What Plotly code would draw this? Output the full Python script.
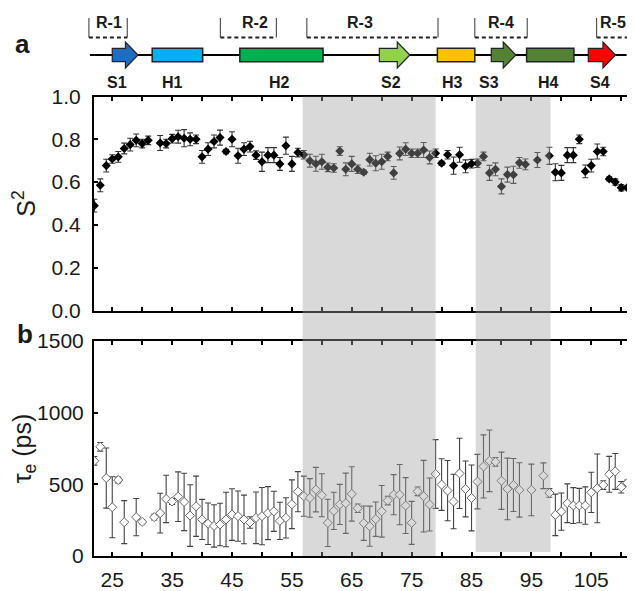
import plotly.graph_objects as go

# ---------------- data ----------------
res_s2 = [22, 23, 24, 25, 26, 27, 28, 29, 30, 31,
          33, 34, 35, 36, 37, 38, 39, 40, 41, 42, 43, 44, 45, 46, 47, 48, 49, 50, 51, 52,
          53, 54, 55, 56, 57, 58, 59, 60, 61, 62, 63, 64, 65, 66, 67, 68, 69, 70, 71, 72,
          73, 74, 75, 76, 77, 78, 79, 80, 81, 82, 83, 84, 85, 86, 87, 88, 89, 90, 91, 92,
          93, 94, 96, 98, 99, 100, 101, 102, 103, 104, 105, 106, 107, 108, 109, 110, 111]
s2_values = [0.49, 0.585, 0.677, 0.708, 0.718, 0.757, 0.775, 0.795, 0.78, 0.795,
             0.783, 0.78, 0.803, 0.812, 0.805, 0.80, 0.80, 0.718, 0.754, 0.79, 0.808, 0.743, 0.80, 0.723, 0.754, 0.766, 0.726, 0.695, 0.726, 0.726,
             0.685, 0.77, 0.685, 0.738, 0.728, 0.70, 0.686, 0.695, 0.669, 0.666, 0.745, 0.66, 0.685, 0.66, 0.646, 0.705, 0.688, 0.695, 0.72, 0.643,
             0.734, 0.754, 0.735, 0.735, 0.75, 0.715, 0.735, 0.688, 0.728, 0.677, 0.728, 0.674, 0.686, 0.688, 0.72, 0.643, 0.66, 0.58, 0.635, 0.634,
             0.69, 0.683, 0.703, 0.723, 0.646, 0.643, 0.726, 0.726, 0.80, 0.65, 0.677, 0.743, 0.743, 0.615, 0.60, 0.574, 0.574]
s2_errors = [0.03, 0.03, 0.03, 0.02, 0.025, 0.025, 0.03, 0.03, 0.02, 0.02,
             0.035, 0.02, 0.02, 0.03, 0.04, 0.03, 0.02, 0.03, 0.03, 0.03, 0.035, 0.01, 0.035, 0.035, 0.03, 0.025, 0.02, 0.045, 0.035, 0.035,
             0.03, 0.04, 0.035, 0.02, 0.02, 0.03, 0.035, 0.035, 0.02, 0.02, 0.02, 0.03, 0.035, 0.02, 0.01, 0.03, 0.035, 0.035, 0.02, 0.03,
             0.03, 0.03, 0.02, 0.02, 0.035, 0.03, 0.02, 0.01, 0.02, 0.04, 0.035, 0.03, 0.02, 0.02, 0.02, 0.035, 0.03, 0.035, 0.035, 0.04,
             0.025, 0.025, 0.035, 0.04, 0.04, 0.035, 0.035, 0.035, 0.02, 0.03, 0.03, 0.035, 0.02, 0.01, 0.015, 0.015, 0.01]

res_tau = [22, 23, 24, 25, 26, 27, 29, 30, 32,
           33, 34, 35, 36, 37, 38, 39, 40, 41, 42, 43, 44, 45, 46, 47, 48, 49, 50, 51, 52,
           53, 54, 55, 56, 57, 58, 59, 60, 61, 62, 63, 64, 65, 66, 67, 68, 69, 70, 71, 72,
           73, 74, 75, 76, 77, 78, 79, 80, 81, 82, 83, 84, 85, 86, 87, 88, 89, 90, 91, 92,
           93, 95, 97, 98, 99, 100, 101, 102, 103, 104, 105, 106, 107, 108, 109, 110, 111]
tau_values = [664, 762, 544, 340, 530, 236, 271, 238, 271,
              299, 398, 380, 414, 377, 282, 347, 255, 225, 210, 220, 255, 289, 278, 255, 234, 266, 278, 299, 312,
              245, 266, 361, 449, 417, 405, 463, 424, 231, 315, 360, 368, 433, 333, 229, 208, 257, 312, 387, 428,
              428, 352, 231, 451, 417, 359, 572, 498, 456, 380, 576, 468, 405, 519, 625, 664, 657, 525, 468, 495,
              461, 461, 560, 440, 287, 310, 368, 352, 352, 352, 444, 472, 495, 570, 590, 480, 510]
tau_errors = [30, 30, 210, 213, 20, 150, 130, 15, 20,
              139, 165, 20, 173, 200, 215, 210, 140, 145, 148, 148, 190, 180, 175, 170, 40, 180, 200, 185, 140,
              130, 140, 170, 140, 140, 135, 155, 150, 165, 130, 140, 210, 190, 30, 120, 140, 120, 180, 30, 140,
              210, 195, 150, 30, 250, 185, 240, 180, 210, 190, 245, 195, 230, 190, 220, 215, 30, 200, 215, 185,
              190, 180, 90, 30, 145, 130, 135, 125, 120, 130, 140, 240, 30, 125, 125, 40, 20]

# shaded (grey) residue ranges
shade_ranges = [(56.8, 79.0), (85.7, 98.2)]

# secondary-structure schematic
strand_names = ["S1", "S2", "S3", "S4"]
strand_start = [25.0, 69.6, 88.3, 104.5]
strand_end = [29.3, 74.7, 92.4, 109.05]
strand_colors = ["#1f6cc0", "#92d050", "#548235", "#ff0000"]
helix_names = ["H1", "H2", "H3", "H4"]
helix_start = [31.67, 46.3, 79.3, 94.2]
helix_end = [40.1, 60.2, 85.55, 102.1]
helix_colors = ["#00b0f0", "#00b050", "#ffc000", "#548235"]
ss_labels = ["S1", "H1", "H2", "S2", "H3", "S3", "H4", "S4"]
ss_label_pos = [25.8, 35.0, 53.0, 71.5, 81.8, 88.0, 97.8, 106.4]
chain_start, chain_end = 21.27, 110.9
region_names = ["R-1", "R-2", "R-3", "R-4", "R-5"]
region_start = [21.1, 43.05, 57.5, 85.55, 105.9]
region_end = [27.5, 52.4, 79.4, 94.3, 111.6]
region_label_pos = [24.4, 48.9, 66.4, 90.0, 108.6]

x_tickvals = list(range(25, 106, 10))
x_ticktext = [str(v) for v in x_tickvals]
s2_tickvals = [0.0, 0.2, 0.4, 0.6, 0.8, 1.0]
s2_ticktext = ["0.0", "0.2", "0.4", "0.6", "0.8", "1.0"]
tau_tickvals = [0, 500, 1000, 1500]
tau_ticktext = ["0", "500", "1000", "1500"]

# ---------------- layout geometry ----------------
# the page body has an 8px margin; the figure is sized to fit the window
OFF = 8
W, H = 635 - OFF, 591 - OFF
XL, XR = 94 - OFF, 632 - OFF          # plot area left/right (px in figure)
A_TOP, A_BOT = 96.5 - OFF, 310.5 - OFF
B_TOP, B_BOT = 341 - OFF, 556 - OFF
X_RANGE = [21.95, 111.8]
scale = (X_RANGE[1] - X_RANGE[0]) / (XR - XL)
X3_RANGE = [X_RANGE[0] - XL * scale, X_RANGE[1] + (W - XR) * scale]
SCH_TOP_REF = OFF                      # reference px of schematic axis top
SCH_BOT = 95 - OFF


def py(y):
    return (H - y) / H


FONT = "Liberation Sans, Arial, sans-serif"
TXT = "#1a1a1a"

fig = go.Figure()

fig.add_trace(go.Scatter(
    x=res_s2, y=s2_values, mode="markers", xaxis="x", yaxis="y",
    marker=dict(symbol="diamond", size=7, color="black", line=dict(width=0)),
    error_y=dict(type="data", array=s2_errors, color="#333333", thickness=1.1, width=3),
    showlegend=False))

fig.add_trace(go.Scatter(
    x=res_tau, y=tau_values, mode="markers", xaxis="x2", yaxis="y2",
    marker=dict(symbol="diamond", size=7, color="white", line=dict(width=1, color="#666666")),
    error_y=dict(type="data", array=tau_errors, color="#444444", thickness=1.1, width=3),
    showlegend=False))

# schematic y coordinates below are in reference pixels (from the top of the page)
LINE_Y = 55
fig.add_trace(go.Scatter(x=[chain_start], y=[LINE_Y], mode="markers", xaxis="x3", yaxis="y3",
                         marker=dict(opacity=0), showlegend=False, hoverinfo="skip"))

shapes = []
ann = []

shapes.append(dict(type="line", xref="x3", yref="y3", x0=chain_start, x1=chain_end,
                   y0=LINE_Y, y1=LINE_Y, line=dict(color="black", width=2), layer="below"))
for s, e, c in zip(helix_start, helix_end, helix_colors):
    shapes.append(dict(type="rect", xref="x3", yref="y3", x0=s, x1=e,
                       y0=LINE_Y - 6.7, y1=LINE_Y + 6.7, fillcolor=c,
                       line=dict(color="#222222", width=1.5)))
HEAD = 2.1
for s, e, c in zip(strand_start, strand_end, strand_colors):
    h = e - HEAD
    path = (f"M {s},{LINE_Y - 6.7} L {h},{LINE_Y - 6.7} L {h},{LINE_Y - 13} L {e},{LINE_Y} "
            f"L {h},{LINE_Y + 13} L {h},{LINE_Y + 6.7} L {s},{LINE_Y + 6.7} Z")
    shapes.append(dict(type="path", xref="x3", yref="y3", path=path, fillcolor=c,
                       line=dict(color="#222222", width=1.2)))
for name, xp in zip(ss_labels, ss_label_pos):
    ann.append(dict(text=f"<b>{name}</b>", xref="x3", yref="y3", x=xp, y=82,
                    showarrow=False, font=dict(family=FONT, size=16, color=TXT)))
for name, s, e, xp in zip(region_names, region_start, region_end, region_label_pos):
    top, bot = 18, 37.5
    for xx in (s, e):
        shapes.append(dict(type="line", xref="x3", yref="y3", x0=xx, x1=xx, y0=top, y1=bot,
                           line=dict(color="#333333", width=1)))
    shapes.append(dict(type="line", xref="x3", yref="y3", x0=s, x1=e, y0=bot, y1=bot,
                       line=dict(color="#222222", width=2, dash="4px,3px")))
    ann.append(dict(text=f"<b>{name}</b>", xref="x3", yref="y3", x=xp, y=22,
                    showarrow=False, font=dict(family=FONT, size=16, color=TXT)))

# grey shaded regions across both panels (drawn above, semi-transparent)
for i, (s, e) in enumerate(shade_ranges):
    y0 = py(B_BOT) if i == 0 else py(B_BOT - 4)
    shapes.append(dict(type="rect", xref="x", yref="paper", x0=s, x1=e, y0=y0, y1=py(A_TOP),
                       fillcolor="rgb(160,160,160)", opacity=0.4, line=dict(width=0),
                       layer="above"))

ann.append(dict(text="<b>a</b>", xref="paper", yref="paper", x=(13 - OFF) / W, y=py(27 - OFF),
                showarrow=False, font=dict(family=FONT, size=26, color=TXT)))
ann.append(dict(text="<b>b</b>", xref="paper", yref="paper", x=(15 - OFF) / W, y=py(334 - OFF),
                showarrow=False, font=dict(family=FONT, size=26, color=TXT)))

axis_common = dict(showline=True, linecolor="black", linewidth=2, mirror="allticks",
                   ticks="inside", ticklen=4, tickwidth=1.5, tickcolor="black",
                   showgrid=False, zeroline=False, automargin=False,
                   tickfont=dict(family=FONT, size=21, color=TXT))
x_minor = dict(ticks="inside", tick0=25, dtick=5, ticklen=4, tickwidth=1.5,
               tickcolor="black", showgrid=False)

fig.update_layout(
    width=W, height=H, margin=dict(l=0, r=0, t=0, b=0),
    paper_bgcolor="white", plot_bgcolor="white",
    font=dict(family=FONT),
    xaxis=dict(domain=[XL / W, XR / W], range=X_RANGE, anchor="y",
               tickvals=x_tickvals, ticktext=x_ticktext, showticklabels=False,
               minor=x_minor, **axis_common),
    yaxis=dict(domain=[py(A_BOT), py(A_TOP)], range=[0, 1], anchor="x",
               tickvals=s2_tickvals, ticktext=s2_ticktext, ticklabelstandoff=7,
               title=dict(text="S<sup>2</sup>", font=dict(family=FONT, size=25, color=TXT),
                          standoff=12),
               **axis_common),
    xaxis2=dict(domain=[XL / W, XR / W], range=X_RANGE, anchor="y2",
                tickvals=x_tickvals, ticktext=x_ticktext, ticklabelstandoff=4,
                minor=x_minor, **axis_common),
    yaxis2=dict(domain=[py(B_BOT), py(B_TOP)], range=[0, 1500], anchor="x2",
                tickvals=tau_tickvals, ticktext=tau_ticktext, ticklabelstandoff=4,
                title=dict(text="τ<sub>e</sub> (ps)", font=dict(family=FONT, size=25, color=TXT),
                           standoff=2),
                **axis_common),
    xaxis3=dict(domain=[0, 1], range=X3_RANGE, anchor="y3", visible=False, fixedrange=True),
    yaxis3=dict(domain=[py(SCH_BOT), 1], range=[95, SCH_TOP_REF], anchor="x3", visible=False,
                fixedrange=True),
    shapes=shapes, annotations=ann,
)

fig.write_html("out.html")
